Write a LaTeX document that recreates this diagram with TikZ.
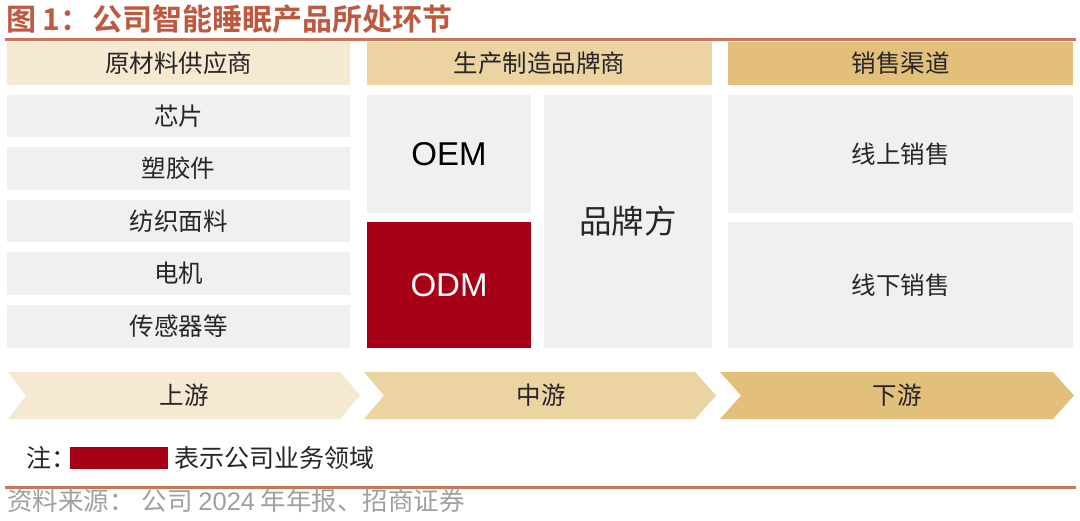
\documentclass[tikz,border=0pt]{standalone}
\usepackage{fontspec}
\setmainfont{Noto Sans CJK SC}
\newfontfamily\cjk{Noto Sans CJK SC}
\newfontfamily\cjkb{Noto Sans CJK SC Bold}
\newfontfamily\latin{Liberation Sans}
\definecolor{titlec}{RGB}{190,88,62}
\definecolor{rulec}{RGB}{198,118,92}
\definecolor{hA}{RGB}{246,233,210}
\definecolor{hB}{RGB}{236,211,162}
\definecolor{hC}{RGB}{226,191,122}
\definecolor{cellc}{RGB}{240,240,240}
\definecolor{redc}{RGB}{166,0,22}
\definecolor{srcc}{RGB}{160,160,160}
\tikzset{
  cell/.style={fill=cellc, draw=none, inner sep=0pt, font=\cjk\fontsize{24.5}{26}\selectfont, text=black!85},
  head/.style={draw=none, inner sep=0pt, font=\cjk\fontsize{24.5}{26}\selectfont, text=black!85},
  lbl/.style={inner sep=0pt, font=\cjk\fontsize{24.5}{26}\selectfont, text=black!85},
}
\begin{document}
\begin{tikzpicture}[x=1pt,y=-1pt]
\useasboundingbox[fill=white] (0,0) rectangle (1080,520);
% title
\node[anchor=west, inner sep=0pt, text=titlec, font=\cjkb\fontsize{30}{32}\selectfont] (title) at (6,19) {图 1：\hspace{2pt}公司智能睡眠产品所处环节};
\coordinate (r1a) at (5,39);
\coordinate (r1b) at (1076,39);
\draw[rulec, line width=3pt] (r1a) -- (r1b);
% headers
\node[head, fill=hA, minimum width=343pt, minimum height=43pt] (h1) at (178.5,63.5) {原材料供应商};
\node[head, fill=hB, minimum width=345pt, minimum height=43pt] (h2) at (539.5,63.5) {生产制造品牌商};
\node[head, fill=hC, minimum width=345pt, minimum height=43pt] (h3) at (900.5,63.5) {销售渠道};
% upstream items
\node[cell, minimum width=343pt, minimum height=42pt] (c1) at (178.5,116) {芯片};
\node[cell, minimum width=343pt, minimum height=43pt] (c2) at (178.5,168.5) {塑胶件};
\node[cell, minimum width=343pt, minimum height=42pt] (c3) at (178.5,221) {纺织面料};
\node[cell, minimum width=343pt, minimum height=43pt] (c4) at (178.5,273.5) {电机};
\node[cell, minimum width=343pt, minimum height=43pt] (c5) at (178.5,326.5) {传感器等};
% midstream
\node[cell, minimum width=164pt, minimum height=118pt, font=\latin\fontsize{33}{35}\selectfont, text=black] (oem) at (449,154) {OEM};
\node[cell, fill=redc, minimum width=164pt, minimum height=126pt, font=\latin\fontsize{33}{35}\selectfont, text=white] (odm) at (449,285) {ODM};
\node[cell, minimum width=168pt, minimum height=253pt, font=\cjk\fontsize{32.5}{34}\selectfont] (brand) at (628,221.5) {品牌方};
% downstream
\node[cell, minimum width=345pt, minimum height=118pt] (online) at (900.5,154) {线上销售};
\node[cell, minimum width=345pt, minimum height=126pt] (offline) at (900.5,285) {线下销售};
% chevrons
\fill[hA] (8,372) -- (340,372) -- (360,395.5) -- (340,419) -- (8,419) -- (26,395.5) -- cycle;
\fill[hB] (364,372) -- (695,372) -- (716,395.5) -- (695,419) -- (364,419) -- (384,395.5) -- cycle;
\fill[hC] (720,372) -- (1053,372) -- (1074,395.5) -- (1053,419) -- (720,419) -- (741,395.5) -- cycle;
\node[lbl] (up) at (184,395.5) {上游};
\node[lbl] (mid) at (541,395.5) {中游};
\node[lbl] (down) at (897,395.5) {下游};
% legend
\node[lbl, anchor=west, font=\cjk\fontsize{25}{27}\selectfont] (note) at (26,458) {注：};
\node[fill=redc, inner sep=0pt, minimum width=98pt, minimum height=22pt] (legbox) at (118.5,458) {};
\node[lbl, anchor=west, font=\cjk\fontsize{25}{27}\selectfont] (legtxt) at (174,458) {表示公司业务领域};
% bottom rule & source
\coordinate (r2a) at (5,487.5);
\coordinate (r2b) at (1076,487.5);
\draw[rulec, line width=3pt] (r2a) -- (r2b);
\node[anchor=west, inner sep=0pt, text=srcc, font=\cjk\fontsize{25.5}{27}\selectfont] (src) at (7,501) {资料来源：\hspace{7pt}公司 {\latin 2024} 年年报、招商证券};
\end{tikzpicture}
\end{document}
